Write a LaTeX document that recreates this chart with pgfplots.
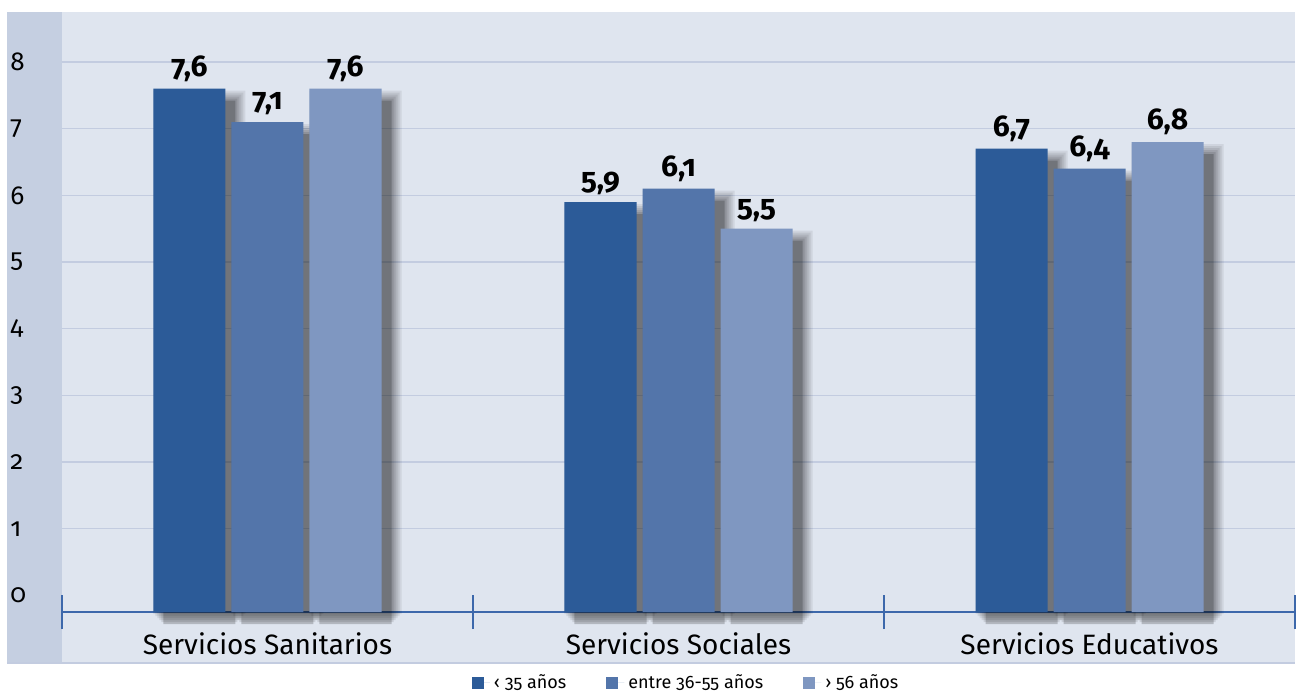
\documentclass[border=0pt]{standalone}
\usepackage{fontspec}
\setmainfont{Fira Sans}[Numbers=OldStyle]
\usepackage{pgfplots}
\pgfplotsset{compat=1.18}
\definecolor{c1}{HTML}{2C5B98}
\definecolor{c2}{HTML}{5375AA}
\definecolor{c3}{HTML}{7F97C1}
\definecolor{bgcol}{HTML}{DFE5EF}
\definecolor{stripcol}{HTML}{C5CFE1}
\definecolor{gridcol}{HTML}{C3CCE0}
\definecolor{axcol}{HTML}{3D68AB}
\pgfplotstableread{
x  a    b    c
0  7.6  7.1  7.6
1  5.9  6.1  5.5
2  6.7  6.4  6.8
}\datatable
\pgfplotsset{
  % shadow layers: bar width, vertical offset, opacity
  sh0/.style={fill=black, fill opacity=0.20, draw=none, bar width=36pt, yshift=-6pt, forget plot},
  sh1/.style={fill=black, fill opacity=0.10, draw=none, bar width=38pt, yshift=-5pt, forget plot},
  sh2/.style={fill=black, fill opacity=0.09, draw=none, bar width=40pt, yshift=-4pt, forget plot},
  sh3/.style={fill=black, fill opacity=0.08, draw=none, bar width=42pt, yshift=-3pt, forget plot},
  sh4/.style={fill=black, fill opacity=0.08, draw=none, bar width=44pt, yshift=-2pt, forget plot},
  sh5/.style={fill=black, fill opacity=0.07, draw=none, bar width=46pt, yshift=-1pt, forget plot},
  barlab/.style={point meta=explicit symbolic, nodes near coords,
     every node near coord/.append style={font=\bfseries\fontsize{15}{15}\selectfont, text=black}},
}
\begin{document}
\begin{tikzpicture}
\fill[bgcol] (-27.5pt,-25.5pt) rectangle (616.5pt,300pt);
\fill[stripcol] (-27.5pt,-25.5pt) rectangle (0pt,300pt);
\draw[gridcol, line width=0.6pt] (-27.5pt,-25.5pt) -- (616.5pt,-25.5pt);
\begin{axis}[
  at={(0pt,0pt)}, anchor=south west,
  width=616.5pt, height=300pt, scale only axis,
  clip=false,
  xmin=-0.5, xmax=2.5, ymin=0, ymax=9,
  ybar, bar width=36pt,
  y filter/.expression={y+0.25},
  axis x line*=bottom, axis y line*=left,
  y axis line style={draw=none},
  x axis line style={draw=axcol, line width=0.8pt, -},
  xtick={-0.5,0.5,1.5,2.5}, xticklabels={,,,},
  tick align=center, major tick length=17pt,
  xtick style={draw=axcol, line width=0.7pt},
  extra x ticks={0,1,2},
  extra x tick labels={Servicios Sanitarios, Servicios Sociales, Servicios Educativos},
  extra x tick style={major tick length=0pt, grid=none,
     xticklabel style={font=\fontsize{14}{14}\selectfont, anchor=base, yshift=-21pt}},
  ytick={1.25,2.25,...,8.25}, yticklabels={1,2,3,4,5,6,7,8},
  extra y ticks={0.25}, extra y tick labels={0},
  extra y tick style={grid=none},
  ytick style={draw=none},
  yticklabel style={anchor=west, inner sep=0pt, xshift=-17.5pt, font=\fontsize{13}{13}\selectfont},
  ymajorgrids, grid style={gridcol, line width=0.8pt},
  axis background/.style={fill=bgcol},
  legend image code/.code={\path (0pt,0pt) -- (9pt,0pt);\fill[#1] (0pt,-3pt) rectangle (6pt,3pt);},
  legend style={at={(0.507,-0.118)}, anchor=center, draw=none, fill=none,
     font=\fontsize{9}{10}\selectfont, legend columns=3,
     /tikz/every even column/.append style={column sep=18pt}},
  legend cell align=left,
]
% soft shadows (same data, offset right and down, layered to look blurred)
\addplot[sh5, bar shift=-34pt] table[x=x,y=a] {\datatable};
\addplot[sh5, bar shift=5pt]   table[x=x,y=b] {\datatable};
\addplot[sh5, bar shift=44pt]  table[x=x,y=c] {\datatable};
\addplot[sh4, bar shift=-34pt] table[x=x,y=a] {\datatable};
\addplot[sh4, bar shift=5pt]   table[x=x,y=b] {\datatable};
\addplot[sh4, bar shift=44pt]  table[x=x,y=c] {\datatable};
\addplot[sh3, bar shift=-34pt] table[x=x,y=a] {\datatable};
\addplot[sh3, bar shift=5pt]   table[x=x,y=b] {\datatable};
\addplot[sh3, bar shift=44pt]  table[x=x,y=c] {\datatable};
\addplot[sh2, bar shift=-34pt] table[x=x,y=a] {\datatable};
\addplot[sh2, bar shift=5pt]   table[x=x,y=b] {\datatable};
\addplot[sh2, bar shift=44pt]  table[x=x,y=c] {\datatable};
\addplot[sh1, bar shift=-34pt] table[x=x,y=a] {\datatable};
\addplot[sh1, bar shift=5pt]   table[x=x,y=b] {\datatable};
\addplot[sh1, bar shift=44pt]  table[x=x,y=c] {\datatable};
\addplot[sh0, bar shift=-34pt] table[x=x,y=a] {\datatable};
\addplot[sh0, bar shift=5pt]   table[x=x,y=b] {\datatable};
\addplot[sh0, bar shift=44pt]  table[x=x,y=c] {\datatable};
% bars
\addplot[fill=c1, draw=none, bar shift=-39pt, forget plot, barlab] coordinates {(0,7.6) [7,6] (1,5.9) [5,9] (2,6.7) [6,7]};
\addplot[fill=c2, draw=none, bar shift=0pt, forget plot, barlab] coordinates {(0,7.1) [7,1] (1,6.1) [6,1] (2,6.4) [6,4]};
\addplot[fill=c3, draw=none, bar shift=39pt, forget plot, barlab] coordinates {(0,7.6) [7,6] (1,5.5) [5,5] (2,6.8) [6,8]};
\addlegendimage{fill=c1, draw=none}
\addlegendentry{‹ 35 años}
\addlegendimage{fill=c2, draw=none}
\addlegendentry{entre 36-55 años}
\addlegendimage{fill=c3, draw=none}
\addlegendentry{› 56 años}
\end{axis}
\pgfresetboundingbox
\path (-31pt,-40pt) rectangle (618pt,306pt);
\end{tikzpicture}
\end{document}
